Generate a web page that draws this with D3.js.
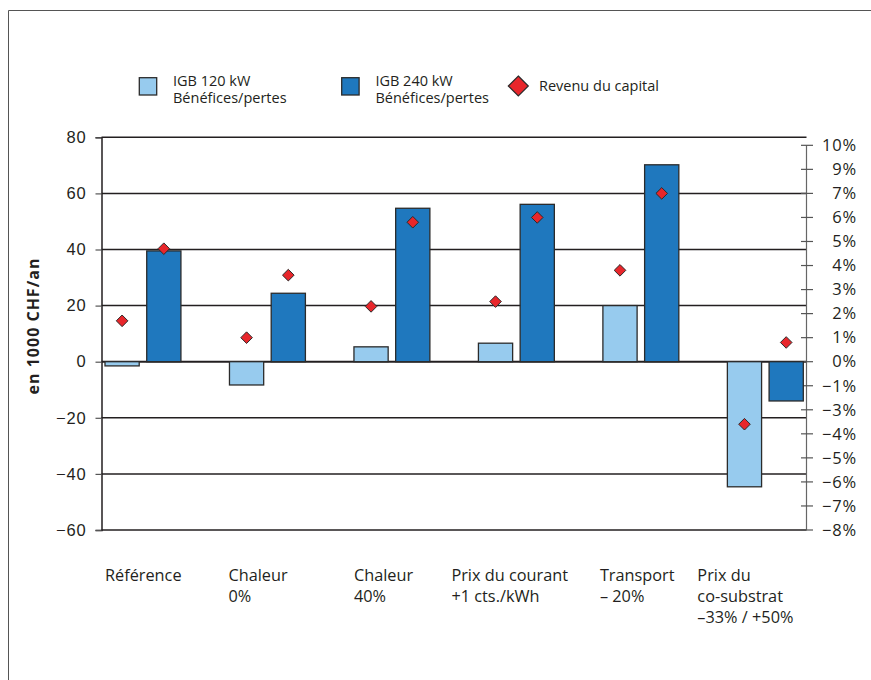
<!DOCTYPE html>
<html>
<head>
<meta charset="utf-8">
<script src="https://cdn.jsdelivr.net/npm/d3@7"></script>
<style>
  html, body { margin: 0; padding: 0; background: #fff; }
  svg { display: block; font-family: "Open Sans", "Noto Sans", sans-serif; }
</style>
</head>
<body>
<svg id="chart" width="871" height="680"></svg>
<script>
// Scenario categories (multi-line labels)
const categories = [
  ["Référence"],
  ["Chaleur", "0%"],
  ["Chaleur", "40%"],
  ["Prix du courant", "+1 cts./kWh"],
  ["Transport", "– 20%"],
  ["Prix du", "co-substrat", "–33% / +50%"]
];

// Profit / loss in 1000 CHF per year
const igb120 = [-1.5, -8.3, 5.3, 6.6, 20.0, -44.6];
const igb240 = [39.5, 24.4, 54.7, 56.1, 70.2, -14.0];

// Return on capital, % (read on the right-hand axis)
const revenue120 = [1.7, 1.0, 2.3, 2.5, 3.8, -3.6];
const revenue240 = [4.7, 3.6, 5.8, 6.0, 7.0, 0.8];

// Axis ticks
const leftTicks = [80, 60, 40, 20, 0, -20, -40, -60];
const rightTickValues = [10, 9, 7, 6, 5, 4, 3, 2, 1, 0, -1, -3, -4, -5, -6, -7, -8];

const seriesNames = ["IGB 120 kW\nBénéfices/pertes", "IGB 240 kW\nBénéfices/pertes", "Revenu du capital"];

// ---- layout & style ----
const ink = "#231f20";
const light = "#97cbee";
const dark = "#1f78be";
const red = "#e8262b";
const plotLeft = 101.5, plotRight = 806.5, plotTop = 137.3, plotBottom = 530;
const labelNudge = [0, -1, 0, -27, -3, -30];

const svg = d3.select("#chart");
const fmt = v => (v < 0 ? "\u2212" + Math.abs(v) : String(v));

// outer frame
svg.append("path")
  .attr("d", "M8.5,680V10.5H871")
  .attr("fill", "none").attr("stroke", "#555").attr("stroke-width", 1);

const y = d3.scaleLinear().domain([-60, 80]).range([plotBottom, plotTop]);

// right axis: evenly spaced ticks, zero aligned with the left axis
const zeroIdx = rightTickValues.indexOf(0);
const rStep = (y(-60) - y(0)) / (rightTickValues.length - 1 - zeroIdx);
const yR = d3.scaleLinear()
  .domain(rightTickValues)
  .range(rightTickValues.map((d, i) => y(0) + (i - zeroIdx) * rStep));

const x0 = d3.scaleBand().domain(d3.range(categories.length))
  .range([105, 803.3]).paddingInner(0.39).paddingOuter(0);
const x1 = d3.scaleBand().domain([0, 1]).range([0, x0.bandwidth()]).paddingInner(0.18);

// gridlines
svg.append("g").selectAll("line").data(leftTicks).join("line")
  .attr("x1", plotLeft).attr("x2", plotRight)
  .attr("y1", d => y(d)).attr("y2", d => y(d))
  .attr("stroke", ink).attr("stroke-width", d => d === 0 ? 2 : 1.5);

// left axis
const leftAxis = svg.append("g").attr("transform", `translate(${plotLeft},0)`)
  .call(d3.axisLeft(y).tickValues(leftTicks).tickFormat(fmt).tickSize(6).tickPadding(9));
leftAxis.select(".domain").attr("stroke", ink).attr("stroke-width", 1.5);
leftAxis.selectAll(".tick line").attr("stroke", "#555").attr("stroke-width", 1.2);
leftAxis.selectAll(".tick text")
  .attr("fill", ink).style("font-size", "16.5px").style("letter-spacing", "0.8px")
  .attr("font-family", null);

// right axis
const rightAxis = svg.append("g");
rightAxis.append("line")
  .attr("x1", plotRight).attr("x2", plotRight)
  .attr("y1", yR(10)).attr("y2", plotBottom)
  .attr("stroke", "#666").attr("stroke-width", 1.2);
const rt = rightAxis.selectAll("g.rtick").data(rightTickValues).join("g")
  .attr("class", "rtick")
  .attr("transform", d => `translate(0,${yR(d)})`);
rt.append("line").attr("x1", plotRight - 5.5).attr("x2", plotRight + 6.5)
  .attr("stroke", "#555").attr("stroke-width", 1.2);
rt.append("text").attr("x", 857).attr("dy", "0.35em")
  .attr("text-anchor", "end").attr("fill", ink)
  .style("font-size", "16.5px").style("letter-spacing", "0.8px")
  .text(d => fmt(d) + "%");

// bars
const groups = svg.append("g").selectAll("g").data(categories).join("g")
  .attr("transform", (d, i) => `translate(${x0(i)},0)`);
[igb120, igb240].forEach((vals, s) => {
  groups.append("rect")
    .attr("x", x1(s))
    .attr("width", x1.bandwidth())
    .attr("y", (d, i) => y(Math.max(0, vals[i])))
    .attr("height", (d, i) => Math.abs(y(vals[i]) - y(0)))
    .attr("fill", s === 0 ? light : dark)
    .attr("stroke", "#2b2b2b").attr("stroke-width", 1.3);
});

// return-on-capital diamonds
const diamond = r => `M0,${-r}L${r},0L0,${r}L${-r},0Z`;
[revenue120, revenue240].forEach((vals, s) => {
  groups.append("path")
    .attr("d", diamond(5.8))
    .attr("transform", (d, i) => `translate(${x1(s) + x1.bandwidth() / 2},${yR(vals[i])})`)
    .attr("fill", red).attr("stroke", "#2b2b2b").attr("stroke-width", 1);
});

// category labels
const catLabels = svg.append("g").selectAll("text").data(categories).join("text")
  .attr("x", (d, i) => x0(i) + labelNudge[i])
  .attr("y", 580.5)
  .attr("fill", ink).style("font-size", "16.3px");
catLabels.selectAll("tspan").data(d => d).join("tspan")
  .attr("x", function () { return d3.select(this.parentNode).attr("x"); })
  .attr("dy", (d, i) => i === 0 ? 0 : 21)
  .text(d => d);

// y-axis title
svg.append("text")
  .attr("transform", "translate(38.5,326) rotate(-90)")
  .attr("text-anchor", "middle").attr("fill", ink)
  .style("font-size", "16px").style("font-weight", "bold").style("letter-spacing", "1px")
  .text("en 1000 CHF/an");

// legend
const legend = svg.append("g");
const legendBoxes = [{ x: 139.3, fill: light }, { x: 341.7, fill: dark }];
legendBoxes.forEach((b, i) => {
  legend.append("rect").attr("x", b.x).attr("y", 77.7).attr("width", 17.4).attr("height", 17.3)
    .attr("fill", b.fill).attr("stroke", "#2b2b2b").attr("stroke-width", 1.3);
  seriesNames[i].split("\n").forEach((line, j) => {
    legend.append("text").attr("x", b.x + 33.7).attr("y", 85.5 + j * 17)
      .attr("fill", ink).style("font-size", "14.5px")
      .text(line);
  });
});
legend.append("path").attr("d", diamond(10)).attr("transform", "translate(518.3,86)")
  .attr("fill", red).attr("stroke", "#2b2b2b").attr("stroke-width", 1.2);
legend.append("text").attr("x", 539).attr("y", 91)
  .attr("fill", ink).style("font-size", "14.5px")
  .text(seriesNames[2]);
</script>
</body>
</html>
